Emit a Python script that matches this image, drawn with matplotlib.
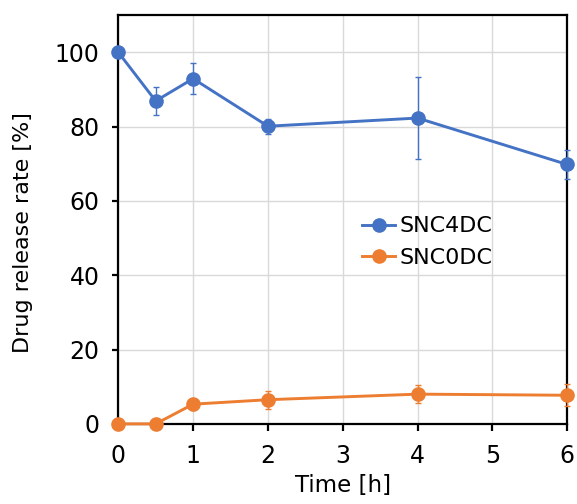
import matplotlib.pyplot as plt
from matplotlib.lines import Line2D

# Release time points [h]
time_h = [0, 0.5, 1, 2, 4, 6]

# SNC4DC release rate [%] and standard deviation
snc4dc_rate = [100.0, 86.9, 92.9, 80.1, 82.3, 69.8]
snc4dc_err = [0.0, 3.7, 4.2, 2.0, 11.1, 3.8]

# SNC0DC release rate [%] and standard deviation
snc0dc_rate = [0.0, 0.0, 5.3, 6.5, 8.0, 7.7]
snc0dc_err = [0.0, 0.0, 1.5, 2.4, 2.4, 2.9]

BLUE = '#4472C4'
ORANGE = '#ED7D31'

plt.rcParams['font.family'] = ['DejaVu Sans']

fig = plt.figure(figsize=(5.77, 5.04), dpi=100)
ax = fig.add_axes([0.205, 0.159, 0.778, 0.811])

handles = []
for y, err, color, label in [
    (snc4dc_rate, snc4dc_err, BLUE, 'SNC4DC'),
    (snc0dc_rate, snc0dc_err, ORANGE, 'SNC0DC'),
]:
    ax.errorbar(time_h, y, yerr=err, color=color, ecolor=color,
                elinewidth=1.0, capsize=2.5, capthick=1.0,
                linewidth=2.1, marker='o', markersize=9.5,
                clip_on=False, zorder=3)
    handles.append(Line2D([], [], color=color, linewidth=2.1, marker='o',
                          markersize=9.5, label=label))

ax.set_xlim(0, 6)
ax.set_ylim(0, 110)
ax.set_xticks(range(0, 7))
ax.set_yticks(range(0, 101, 20))
ax.grid(True, color='#d9d9d9', linewidth=1.0)
ax.set_axisbelow(True)

for spine in ax.spines.values():
    spine.set_color('black')
    spine.set_linewidth(1.6)

ax.tick_params(axis='both', direction='out', length=5, width=1.6,
               labelsize=17)
ax.tick_params(axis='x', pad=9.5)
ax.tick_params(axis='y', length=4.5, pad=9)
ax.set_xlabel('Time [h]', fontsize=16.5, labelpad=4)
ax.set_ylabel('Drug release rate [%]', fontsize=16)
ax.yaxis.set_label_coords(-0.19, 0.467)

ax.legend(handles=handles, loc='center left', bbox_to_anchor=(0.523, 0.445),
          frameon=False, fontsize=16, handlelength=1.5, handletextpad=0.2,
          labelspacing=0.5, borderaxespad=0)

fig.savefig('out.png', dpi=100)
